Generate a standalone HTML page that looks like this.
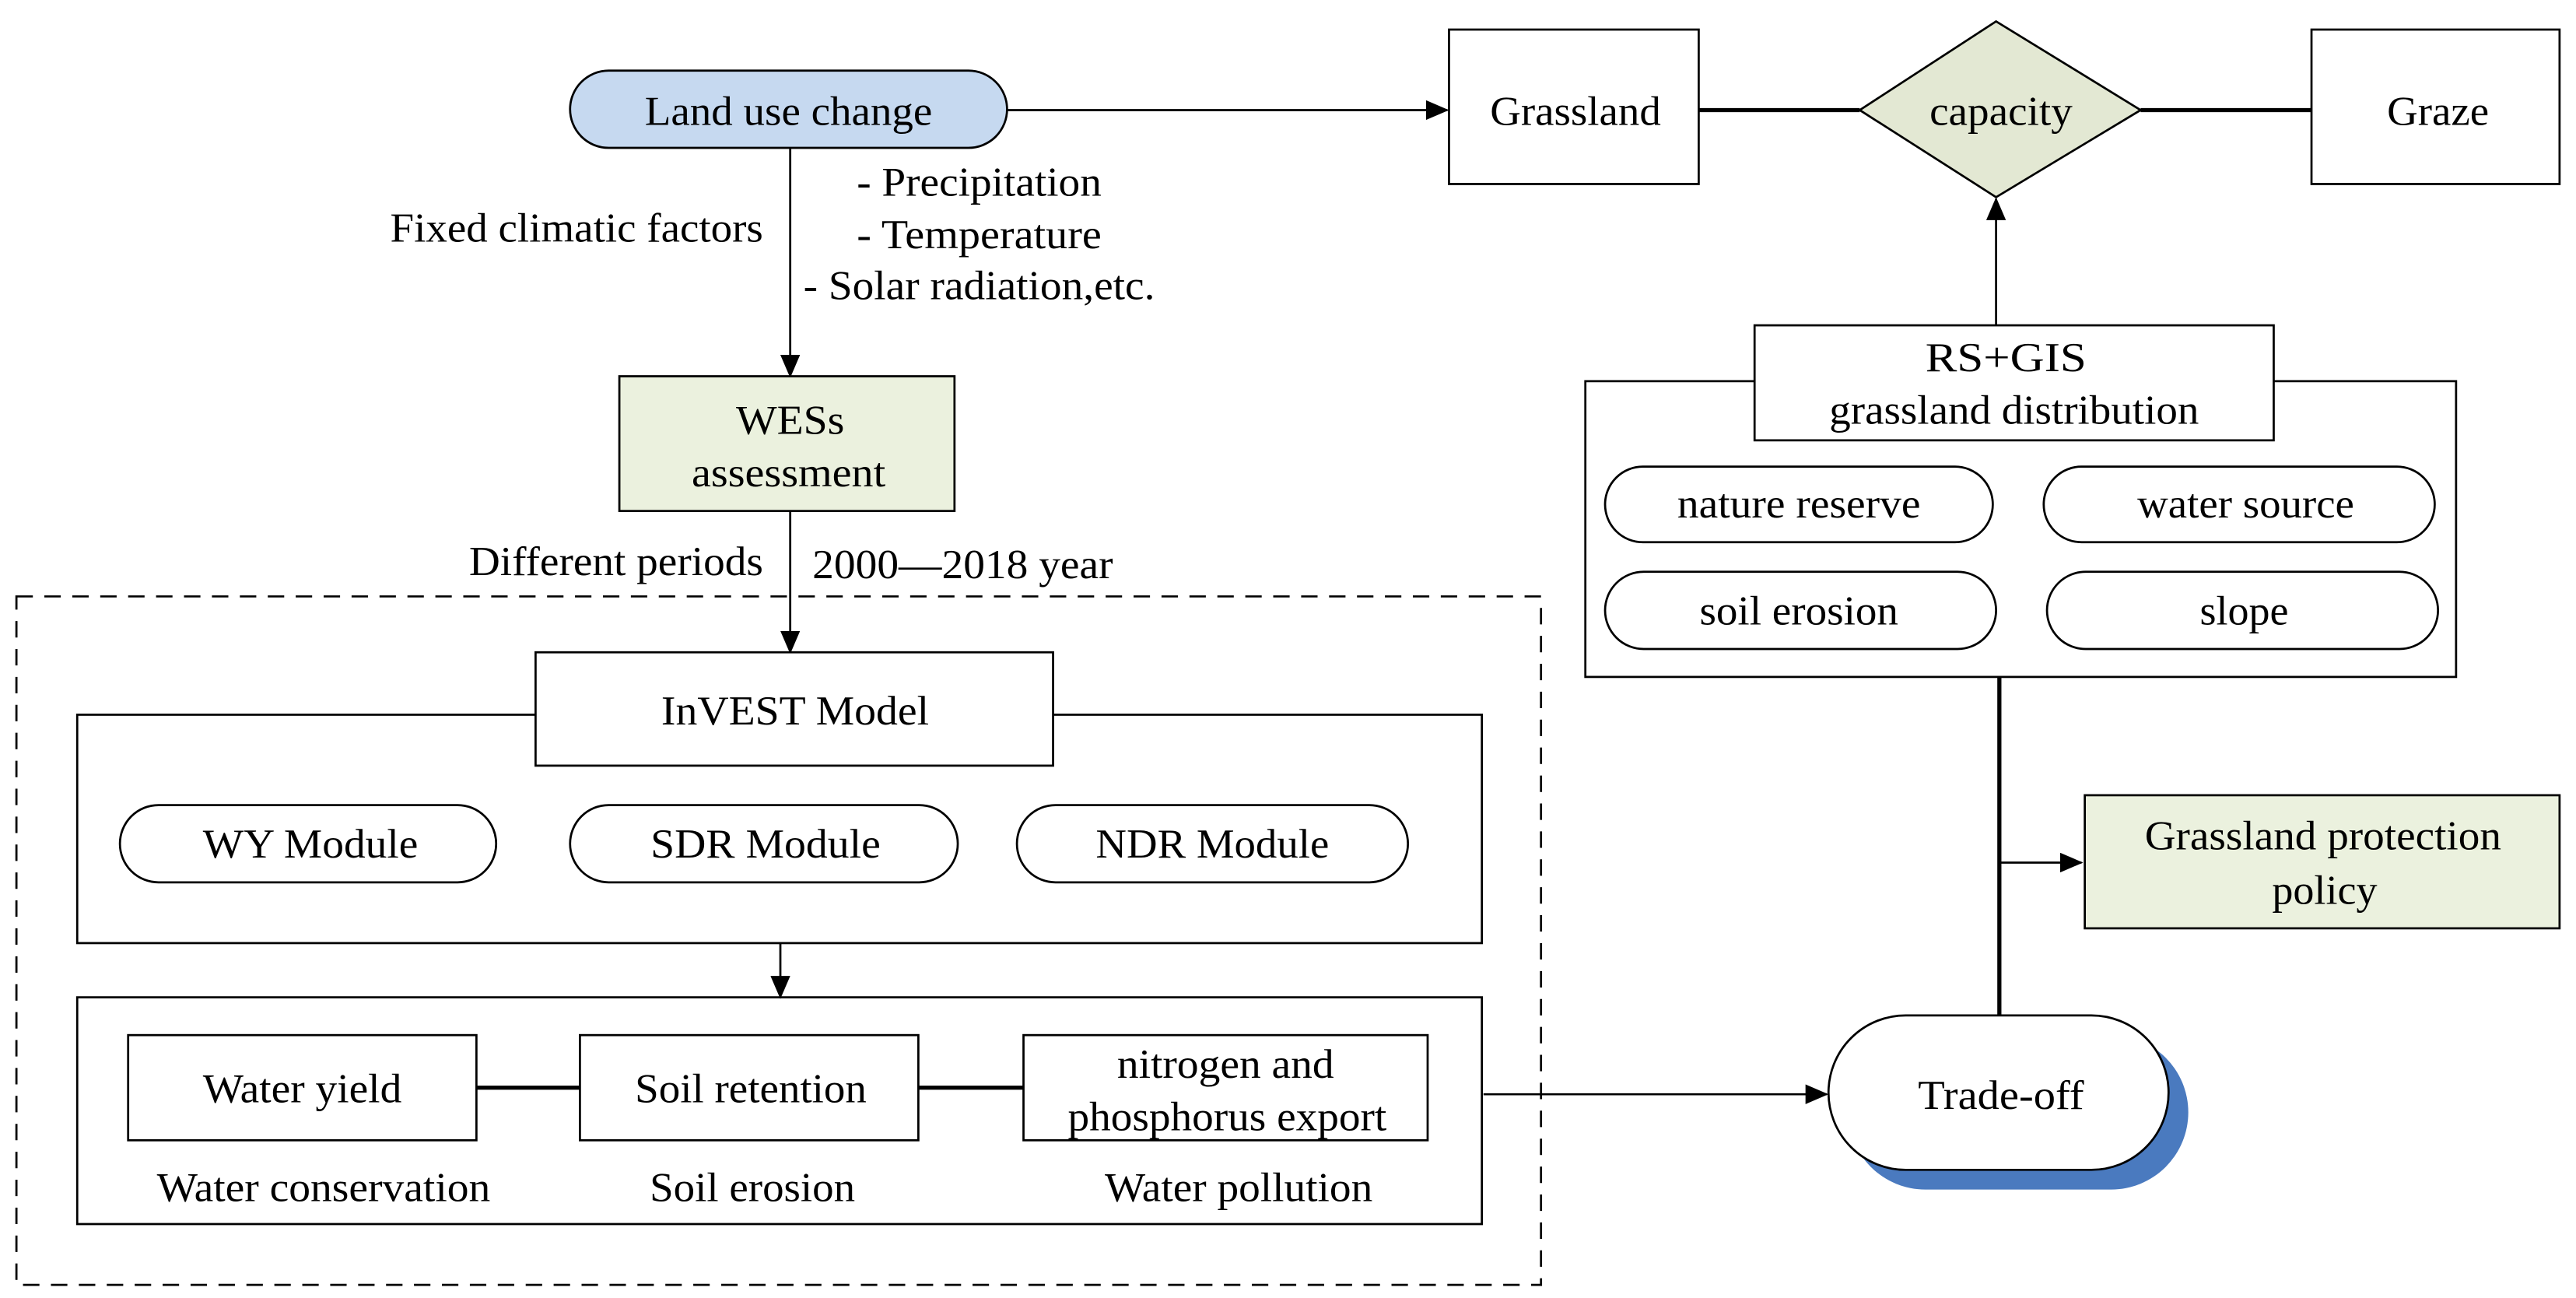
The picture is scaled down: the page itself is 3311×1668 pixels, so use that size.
<!DOCTYPE html>
<html><head><meta charset="utf-8"><style>html,body{margin:0;padding:0;background:#fff}svg{display:block}</style></head>
<body>
<svg width="3311" height="1668" viewBox="0 0 1568 790" preserveAspectRatio="none" xmlns="http://www.w3.org/2000/svg" font-family="Liberation Serif, serif" font-size="25" text-anchor="middle">
<defs><marker id="a" markerWidth="10" markerHeight="10" refX="9" refY="5" orient="auto" markerUnits="userSpaceOnUse"><path d="M0,0 L10,5 L0,10z" fill="#000"/></marker>
<marker id="b" markerWidth="14" markerHeight="12" refX="13" refY="6" orient="auto" markerUnits="userSpaceOnUse"><path d="M0,0 L14,6 L0,12z" fill="#000"/></marker></defs>
<g fill="none" stroke="#000" stroke-width="1.3">
<rect x="347" y="43" width="266" height="47" rx="23.5" fill="#c6d9f0"/>
<line x1="613" y1="67" x2="881" y2="67" marker-end="url(#b)"/>
<rect x="882" y="18" width="152" height="94" fill="#fff"/>
<line x1="1034" y1="67" x2="1132" y2="67" stroke-width="2.5"/>
<path d="M1132,67 L1215,13 L1303,67 L1215,120z" fill="#e3e8d3"/>
<line x1="1303" y1="67" x2="1407" y2="67" stroke-width="2.5"/>
<rect x="1407" y="18" width="151" height="94" fill="#fff"/>
<line x1="1215" y1="198" x2="1215" y2="121" marker-end="url(#b)"/>
<rect x="965" y="232" width="530" height="180" fill="#fff"/>
<rect x="1068" y="198" width="316" height="70" fill="#fff"/>
<rect x="977" y="284" width="236" height="46" rx="23"/>
<rect x="1244" y="284" width="238" height="46" rx="23"/>
<rect x="977" y="348" width="238" height="47" rx="23.5"/>
<rect x="1246" y="348" width="238" height="47" rx="23.5"/>
<line x1="1217" y1="412" x2="1217" y2="620" stroke-width="2.5"/>
<line x1="1217" y1="525" x2="1267" y2="525" marker-end="url(#b)"/>
<rect x="1269" y="484" width="289" height="81" fill="#ebf1de"/>
<rect x="1125" y="630" width="207" height="94" rx="47" fill="#4a7abf" stroke="none"/>
<rect x="1113" y="618" width="207" height="94" rx="47" fill="#fff"/>
<line x1="903" y1="666" x2="1112" y2="666" marker-end="url(#b)"/>
<line x1="481" y1="90" x2="481" y2="229" marker-end="url(#b)"/>
<rect x="377" y="229" width="204" height="82" fill="#ebf1de"/>
<line x1="481" y1="311" x2="481" y2="397" marker-end="url(#b)"/>
<rect x="10" y="363" width="928" height="419" stroke-dasharray="10,7"/>
<rect x="47" y="435" width="855" height="139" fill="#fff"/>
<rect x="326" y="397" width="315" height="69" fill="#fff"/>
<rect x="73" y="490" width="229" height="47" rx="23.5"/>
<rect x="347" y="490" width="236" height="47" rx="23.5"/>
<rect x="619" y="490" width="238" height="47" rx="23.5"/>
<line x1="475" y1="574" x2="475" y2="607" marker-end="url(#b)"/>
<rect x="47" y="607" width="855" height="138"/>
<rect x="78" y="630" width="212" height="64"/>
<rect x="353" y="630" width="206" height="64"/>
<rect x="623" y="630" width="246" height="64"/>
<line x1="290" y1="662" x2="353" y2="662" stroke-width="2.5"/>
<line x1="559" y1="662" x2="623" y2="662" stroke-width="2.5"/>
</g>
<g fill="#000" lengthAdjust="spacingAndGlyphs">
<text x="480" y="76" textLength="175" lengthAdjust="spacingAndGlyphs">Land use change</text>
<text x="959" y="76" textLength="104" lengthAdjust="spacingAndGlyphs">Grassland</text>
<text x="1218" y="76" textLength="87" lengthAdjust="spacingAndGlyphs">capacity</text>
<text x="1484" y="76" textLength="62" lengthAdjust="spacingAndGlyphs">Graze</text>
<text x="596" y="119" textLength="149" lengthAdjust="spacingAndGlyphs">- Precipitation</text>
<text x="596" y="151" textLength="149" lengthAdjust="spacingAndGlyphs">- Temperature</text>
<text x="596" y="182" textLength="214" lengthAdjust="spacingAndGlyphs">- Solar radiation,etc.</text>
<text x="351" y="147" textLength="227" lengthAdjust="spacingAndGlyphs">Fixed climatic factors</text>
<text x="481" y="264" textLength="66" lengthAdjust="spacingAndGlyphs">WESs</text>
<text x="480" y="296" textLength="118" lengthAdjust="spacingAndGlyphs">assessment</text>
<text x="375" y="350" textLength="179" lengthAdjust="spacingAndGlyphs">Different periods</text>
<text x="586" y="352" textLength="183" lengthAdjust="spacingAndGlyphs">2000—2018 year</text>
<text x="484" y="441" textLength="163" lengthAdjust="spacingAndGlyphs">InVEST Model</text>
<text x="1221" y="226" textLength="98" lengthAdjust="spacingAndGlyphs">RS+GIS</text>
<text x="1226" y="258" textLength="225" lengthAdjust="spacingAndGlyphs">grassland distribution</text>
<text x="1095" y="315" textLength="148" lengthAdjust="spacingAndGlyphs">nature reserve</text>
<text x="1367" y="315" textLength="132" lengthAdjust="spacingAndGlyphs">water source</text>
<text x="1095" y="380" textLength="121" lengthAdjust="spacingAndGlyphs">soil erosion</text>
<text x="1366" y="380" textLength="54" lengthAdjust="spacingAndGlyphs">slope</text>
<text x="1414" y="517" textLength="217" lengthAdjust="spacingAndGlyphs">Grassland protection</text>
<text x="1415" y="550" textLength="64" lengthAdjust="spacingAndGlyphs">policy</text>
<text x="1218" y="675" textLength="101" lengthAdjust="spacingAndGlyphs">Trade-off</text>
<text x="189" y="522" textLength="131" lengthAdjust="spacingAndGlyphs">WY Module</text>
<text x="466" y="522" textLength="140" lengthAdjust="spacingAndGlyphs">SDR Module</text>
<text x="738" y="522" textLength="142" lengthAdjust="spacingAndGlyphs">NDR Module</text>
<text x="184" y="671" textLength="121" lengthAdjust="spacingAndGlyphs">Water yield</text>
<text x="457" y="671" textLength="141" lengthAdjust="spacingAndGlyphs">Soil retention</text>
<text x="746" y="656" textLength="132" lengthAdjust="spacingAndGlyphs">nitrogen and</text>
<text x="747" y="688" textLength="194" lengthAdjust="spacingAndGlyphs">phosphorus export</text>
<text x="197" y="731" textLength="203" lengthAdjust="spacingAndGlyphs">Water conservation</text>
<text x="458" y="731" textLength="125" lengthAdjust="spacingAndGlyphs">Soil erosion</text>
<text x="754" y="731" textLength="163" lengthAdjust="spacingAndGlyphs">Water pollution</text>
</g>
</svg>
</body></html>
